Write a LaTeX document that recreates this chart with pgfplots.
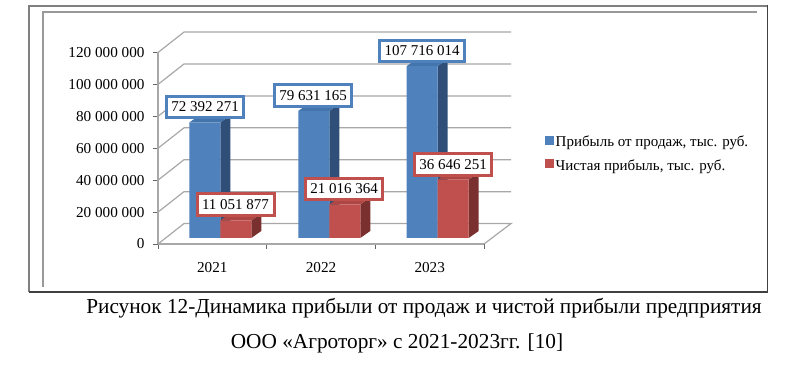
\documentclass[border=0pt]{standalone}
\usepackage{pgfplots}
\pgfplotsset{compat=1.18}
\usepackage{fontspec}
\setmainfont{Liberation Serif}
\definecolor{cblue}{HTML}{4F81BD}
\definecolor{dblue}{HTML}{2F4F78}
\definecolor{tblue}{HTML}{4474AC}
\definecolor{cred}{HTML}{C0504D}
\definecolor{dred}{HTML}{7A302E}
\definecolor{tred}{HTML}{AE4744}
\definecolor{cgrid}{HTML}{A8A8A8}
\newcommand{\fs}[1]{\fontsize{#1}{#1}\selectfont}
\pgfplotstableread{
x v
204.8 72392271
313.8 79631165
422.2 107716014
}\profit
\pgfplotstableread{
x v
235.8 11051877
344.8 21016364
453.2 36646251
}\net
\begin{document}
\begin{tikzpicture}[x=1pt,y=1pt]
\useasboundingbox (0,0) rectangle (800,367);
\fill[white] (0,0) rectangle (800,367);
% frame
\draw[color=black!50,line width=1.8pt] (29,75)--(29,361)--(767.5,361);
\draw[color=black!75,line width=1.2pt] (29,75)--(767.5,75)--(767.5,361.9);
\draw[color=black!40,line width=1.8pt] (43,80)--(43,355)--(757,355);
\begin{axis}[
  at={(158pt,123pt)},anchor=origin,
  scale only axis,width=326pt,height=191.5pt,
  xmin=158,xmax=484,ymin=0,ymax=120000000,
  clip=false,
  axis x line=bottom,axis y line=left,
  axis line style={-,cgrid,line width=1.3pt},
  ytick={0,20000000,40000000,60000000,80000000,100000000,120000000},
  xtick={212.3,321,429.7},xticklabels={2021,2022,2023},
  minor xtick={158,266.7,375.3,484},
  major tick length=5pt,minor tick length=5pt,
  tick align=outside,
  major y tick style={black!60,line width=.8pt},
  major x tick style={draw=none},
  minor x tick style={black!60,line width=.8pt},
  scaled y ticks=false,
  /pgf/number format/.cd,fixed,precision=0,1000 sep={\ },assume math mode=true,
  /pgfplots/.cd,
  tick label style={font=\fs{15.2}},
  yticklabel style={xshift=-5pt},
  xticklabel style={yshift=-10pt},
  legend style={at={(axis cs:545,56500000)},anchor=west,draw=none,fill=none,font=\fs{15},row sep=7pt,inner sep=0pt,
    /tikz/every even column/.append style={column sep=3pt}},
  legend cell align=left,
  legend image code/.code={\fill[#1] (0,-8.5pt) rectangle (8.5pt,0pt);},
]
% gridlines on the walls
\addplot[cgrid,line width=1.2pt,forget plot] coordinates {(158,0)(184,12800000)(511,12800000)(484,0)};
\addplot[cgrid,line width=1.2pt,forget plot] coordinates {(158,20000000)(184,32800000)(511,32800000)};
\addplot[cgrid,line width=1.2pt,forget plot] coordinates {(158,40000000)(184,52800000)(511,52800000)};
\addplot[cgrid,line width=1.2pt,forget plot] coordinates {(158,60000000)(184,72800000)(511,72800000)};
\addplot[cgrid,line width=1.2pt,forget plot] coordinates {(158,80000000)(184,92800000)(511,92800000)};
\addplot[cgrid,line width=1.2pt,forget plot] coordinates {(158,100000000)(184,112800000)(511,112800000)};
\addplot[cgrid,line width=1.2pt,forget plot] coordinates {(158,120000000)(184,132800000)(511,132800000)};
% blue bars: side, top
\addplot[fill=dblue,draw=none,yshift=6pt,forget plot] coordinates {(220.3,0)(220.3,72392271)(230.3,76792271)(230.3,4400000)};
\addplot[fill=tblue,draw=none,yshift=6pt,forget plot] coordinates {(189.3,72392271)(199.3,76792271)(230.3,76792271)(220.3,72392271)};
\addplot[fill=dblue,draw=none,yshift=6pt,forget plot] coordinates {(329.3,0)(329.3,79631165)(339.3,84031165)(339.3,4400000)};
\addplot[fill=tblue,draw=none,yshift=6pt,forget plot] coordinates {(298.3,79631165)(308.3,84031165)(339.3,84031165)(329.3,79631165)};
\addplot[fill=dblue,draw=none,yshift=6pt,forget plot] coordinates {(437.7,0)(437.7,107716014)(447.7,112116014)(447.7,4400000)};
\addplot[fill=tblue,draw=none,yshift=6pt,forget plot] coordinates {(406.7,107716014)(416.7,112116014)(447.7,112116014)(437.7,107716014)};
\addplot[ybar,bar width=31pt,bar shift=0pt,fill=cblue,draw=none,yshift=6pt] table[x=x,y=v] {\profit};
\addlegendentry{Прибыль от продаж, тыс. руб.}
% red bars: side, top
\addplot[fill=dred,draw=none,yshift=6pt,forget plot] coordinates {(251.3,0)(251.3,11051877)(261.3,15451877)(261.3,4400000)};
\addplot[fill=tred,draw=none,yshift=6pt,forget plot] coordinates {(220.3,11051877)(230.3,15451877)(261.3,15451877)(251.3,11051877)};
\addplot[fill=dred,draw=none,yshift=6pt,forget plot] coordinates {(360.3,0)(360.3,21016364)(370.3,25416364)(370.3,4400000)};
\addplot[fill=tred,draw=none,yshift=6pt,forget plot] coordinates {(329.3,21016364)(339.3,25416364)(370.3,25416364)(360.3,21016364)};
\addplot[fill=dred,draw=none,yshift=6pt,forget plot] coordinates {(468.7,0)(468.7,36646251)(478.7,41046251)(478.7,4400000)};
\addplot[fill=tred,draw=none,yshift=6pt,forget plot] coordinates {(437.7,36646251)(447.7,41046251)(478.7,41046251)(468.7,36646251)};
\addplot[ybar,bar width=31pt,bar shift=0pt,fill=cred,draw=none,yshift=6pt] table[x=x,y=v] {\net};
\addlegendentry{Чистая прибыль, тыс. руб.}
\end{axis}
\tikzset{dl/.style={draw=#1,line width=3pt,fill=white,inner sep=0pt,minimum height=21.5pt,font=\fs{15}}}
\node[dl=cblue,minimum width=77pt] at (205,260) {72 392 271};
\node[dl=cblue,minimum width=77pt] at (313,271.5) {79 631 165};
\node[dl=cblue,minimum width=85pt] at (422,316) {107 716 014};
\node[dl=cred,minimum width=77pt] at (235.5,162.5) {11 051 877};
\node[dl=cred,minimum width=77pt] at (344,178) {21 016 364};
\node[dl=cred,minimum width=77pt] at (453,202.5) {36 646 251};
\node[font=\fs{21.3},anchor=base] at (424,54) {Рисунок 12-Динамика прибыли от продаж и чистой прибыли предприятия};
\node[font=\fs{21.3},anchor=base] at (397,19) {ООО «Агроторг» с 2021-2023гг. [10]};
\end{tikzpicture}
\end{document}
